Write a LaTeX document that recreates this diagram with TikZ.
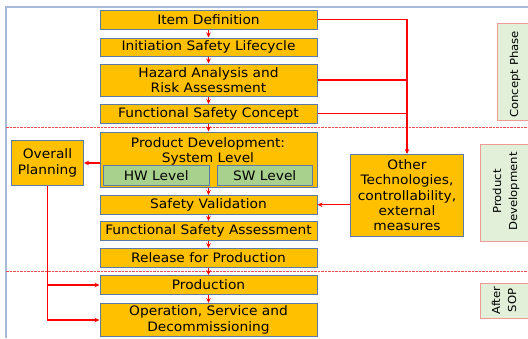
\documentclass[tikz,border=0pt]{standalone}
\usepackage{fontspec}
\setmainfont[FakeStretch=1.06]{DejaVu Sans}
\usetikzlibrary{arrows.meta}
\definecolor{boxfill}{HTML}{FFC000}
\definecolor{boxline}{HTML}{5A7AA8}
\definecolor{lvlfill}{HTML}{A9D18E}
\definecolor{sidefill}{HTML}{E2F0D9}
\definecolor{sideline}{HTML}{F09A98}
\definecolor{framecol}{HTML}{A8B8D8}
\definecolor{dashcol}{HTML}{E85050}
\definecolor{linkred}{HTML}{FF0000}
\tikzset{
  x=1pt, y=1pt,
  txt/.style={font=\fontsize{13}{15.3}\selectfont},
  box/.style={draw=boxline, fill=boxfill, line width=1pt, inner sep=0pt, anchor=north west, align=center, txt},
  lvl/.style={draw=boxline, fill=lvlfill, line width=1pt, inner sep=0pt, anchor=north west, align=center, txt},
  side/.style={draw=sideline, fill=sidefill, line width=1pt, inner sep=0pt, anchor=north west},
  sidetxt/.style={rotate=90, align=center, font=\fontsize{11}{16}\selectfont, inner sep=0pt},
  link/.style={color=linkred, line width=1.2pt},
  arr/.style={link, -{Stealth[length=5pt,width=4.5pt]}},
  phase/.style={color=dashcol, line width=1pt, dash pattern=on 2.5pt off 1pt},
}
\begin{document}
\begin{tikzpicture}
\useasboundingbox (0,0) rectangle (528,-338);
% frame
\draw[color=framecol, line width=1.2pt] (6,-338) -- (6,-7) -- (528,-7);
% phase separators
\draw[phase] (6,-127) -- (528,-127);
\draw[phase] (6,-271) -- (528,-271);
% side labels
\node[side, minimum width=40pt, minimum height=97pt] (cpbox) at (497,-23) {};
\node[sidetxt] (cptxt) at (515,-74.5) {Concept Phase};
\node[side, minimum width=56pt, minimum height=97.5pt] (pdbox) at (480,-143.5) {};
\node[sidetxt] (pdtxt) at (506,-191.5) {Product\\Development};
\node[side, minimum width=56pt, minimum height=35pt] (sopbox) at (480,-283) {};
\node[sidetxt] (soptxt) at (504,-300.5) {After\\SOP};
% main column
\node[box, minimum width=217pt, minimum height=18.5pt] (item) at (99.5,-10) {Item Definition};
\node[box, minimum width=217pt, minimum height=18.5pt] (init) at (99.5,-37.5) {Initiation Safety Lifecycle};
\node[box, minimum width=217pt, minimum height=32pt] (haz) at (99.5,-63.5) {Hazard Analysis and\\Risk Assessment};
\node[box, minimum width=217pt, minimum height=18.5pt] (fsc) at (99.5,-104) {Functional Safety Concept};
\node[box, minimum width=217pt, minimum height=55.5pt] (pd) at (99.5,-131.5) {};
\node[txt, align=center, inner sep=0pt] (pdt) at (208,-151.5) {Product Development:\\System Level};
\node[lvl, minimum width=106.5pt, minimum height=20pt] (hw) at (102.5,-165) {HW Level};
\node[lvl, minimum width=95.5pt, minimum height=20pt] (sw) at (216.5,-165) {SW Level};
\node[box, minimum width=217pt, minimum height=18.5pt] (sv) at (99.5,-195) {Safety Validation};
\node[box, minimum width=217pt, minimum height=19pt] (fsa) at (99.5,-221) {Functional Safety Assessment};
\node[box, minimum width=217pt, minimum height=19pt] (rel) at (99.5,-248) {Release for Production};
\node[box, minimum width=217pt, minimum height=19pt] (prod) at (99.5,-275) {Production};
\node[box, minimum width=217pt, minimum height=33pt] (oper) at (99.5,-303) {Operation, Service and\\Decommissioning};
% side boxes
\node[box, minimum width=72pt, minimum height=45pt] (op) at (11,-140) {Overall\\Planning};
\node[box, minimum width=113pt, minimum height=81.5pt] (other) at (350,-154) {Other\\Technologies,\\controllability,\\external\\measures};
% vertical flow
\draw[arr] (item) -- (init);
\draw[arr] (init) -- (haz);
\draw[arr] (haz) -- (fsc);
\draw[arr] (fsc) -- (pd);
\draw[arr] (pd) -- (sv);
\draw[arr] (sv) -- (fsa);
\draw[arr] (fsa) -- (rel);
\draw[arr] (rel) -- (prod);
\draw[arr] (prod) -- (oper);
% concept to other technologies
\draw[arr] (item.east) -| (other.north);
\draw[link] (haz.east) -- (haz.east -| other.north);
\draw[link] (fsc.east) -- (fsc.east -| other.north);
\draw[arr] (sv.east -| other.west) -- (sv.east);
% overall planning
\draw[arr] (pd.west |- op.east) -- (op.east);
\draw[arr] (op.south) |- (prod.west);
\draw[arr] (op.south) |- (oper.west);
\end{tikzpicture}
\end{document}
